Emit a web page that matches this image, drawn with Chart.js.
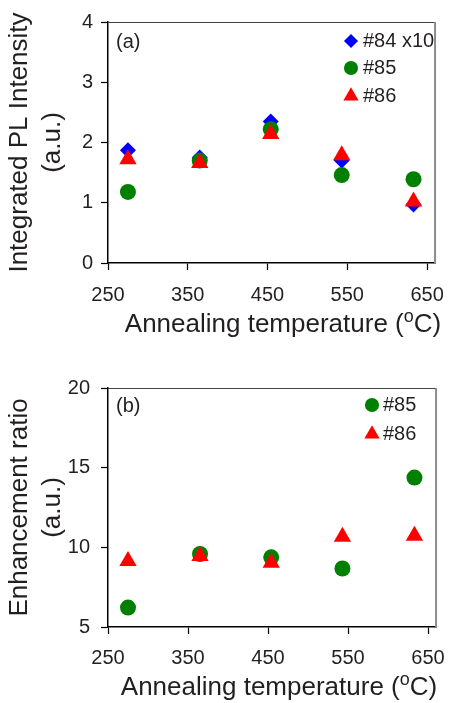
<!DOCTYPE html>
<html>
<head>
<meta charset="utf-8">
<title>Annealing temperature series</title>
<script src="https://cdn.jsdelivr.net/npm/chart.js@4.4.0/dist/chart.umd.min.js"></script>
<style>
  body { margin: 0; background: #fff; }
  canvas { position: absolute; left: 0; }
  #panelA { top: 0; }
  #panelB { top: 350px; }
</style>
</head>
<body>
<canvas id="panelA" width="457" height="350"></canvas>
<canvas id="panelB" width="457" height="353"></canvas>
<script>
// annealing temperatures (°C) and axis ticks
const temps = [275, 365, 454, 543, 633];
const tempTicks = [250, 350, 450, 550, 650];

// (a) integrated PL intensity
const pl84x10 = [1.87, 1.75, 2.35, 1.70, 0.97];
const pl85 = [1.18, 1.70, 2.22, 1.46, 1.39];
const pl86 = [1.72, 1.66, 2.14, 1.79, 1.02];
const intensityTicks = [0, 1, 2, 3, 4];

// (b) enhancement ratio
const ratio85 = [6.22, 9.58, 9.37, 8.67, 14.38];
const ratio86 = [9.15, 9.45, 9.04, 10.66, 10.73];
const ratioTicks = [5, 10, 15, 20];

const FONT = '"Liberation Sans", Arial, sans-serif';
const TEXT = '#231f20';
const BLUE = '#0000ff', GREEN = '#008000', RED = '#ff0000';

Chart.defaults.font.family = FONT;
Chart.defaults.color = TEXT;

function points(values) {
    return temps.map((t, i) => ({ x: t, y: values[i] }));
}

function series(label, values, style, color, radius, order) {
    return {
        label: label,
        data: points(values),
        pointStyle: style,
        pointRadius: radius,
        pointHoverRadius: radius,
        backgroundColor: color,
        borderColor: color,
        borderWidth: 0,
        showLine: false,
        order: order
    };
}

// frame, panel tag, in-plot legend and the x title with a superscript
const panelDecor = {
    id: 'panelDecor',
    beforeDatasetsDraw(chart) {
        const { ctx, chartArea: a } = chart;
        ctx.save();
        ctx.strokeStyle = '#444';
        ctx.lineWidth = 1;
        ctx.beginPath();
        ctx.moveTo(a.left, a.top + 0.5);
        ctx.lineTo(a.right, a.top + 0.5);
        ctx.stroke();
        ctx.strokeStyle = '#8c8c8c';
        ctx.lineWidth = 2;
        ctx.beginPath();
        ctx.moveTo(a.right, a.top);
        ctx.lineTo(a.right, a.bottom);
        ctx.stroke();
        ctx.restore();
    },
    afterDraw(chart, args, opts) {
        const ctx = chart.ctx;
        ctx.save();
        ctx.fillStyle = TEXT;
        ctx.textBaseline = 'middle';
        ctx.textAlign = 'left';

        ctx.font = `20px ${FONT}`;
        ctx.fillText(opts.tag, opts.tagX, opts.tagY);

        opts.legend.forEach(row => {
            const ds = chart.data.datasets[row.index];
            ctx.fillStyle = ds.backgroundColor;
            Chart.helpers.drawPoint(ctx, {
                pointStyle: ds.pointStyle,
                radius: ds.pointRadius * 0.88,
                rotation: 0,
                borderWidth: 0
            }, opts.markerX, row.y);
            ctx.fillStyle = TEXT;
            ctx.fillText(ds.label, opts.textX, row.y);
        });

        // "Annealing temperature (°C)" with a raised o
        const main = 'Annealing temperature (';
        const tail = 'C)';
        ctx.textBaseline = 'alphabetic';
        ctx.font = `26px ${FONT}`;
        const w1 = ctx.measureText(main).width;
        const w3 = ctx.measureText(tail).width;
        ctx.font = `18px ${FONT}`;
        const w2 = ctx.measureText('o').width;
        let x = opts.titleX - (w1 + w2 + w3) / 2;
        ctx.font = `26px ${FONT}`;
        ctx.fillText(main, x, opts.titleY);
        x += w1;
        ctx.font = `18px ${FONT}`;
        ctx.fillText('o', x, opts.titleY - 10);
        x += w2;
        ctx.font = `26px ${FONT}`;
        ctx.fillText(tail, x, opts.titleY);
        ctx.restore();
    }
};

function axes(cfg) {
    const grid = { drawOnChartArea: false, tickLength: 7, color: '#000', tickWidth: 1.2 };
    const border = { color: '#000', width: 1.5 };
    return {
        x: {
            type: 'linear',
            min: 250,
            max: 660,
            afterBuildTicks: s => { s.ticks = tempTicks.map(v => ({ value: v })); },
            afterFit: s => { s.height = cfg.xHeight; },
            ticks: { font: { size: 20 }, padding: cfg.xPad, color: TEXT },
            grid: grid,
            border: border
        },
        y: {
            type: 'linear',
            min: cfg.yTicks[0],
            max: cfg.yTicks[cfg.yTicks.length - 1],
            afterBuildTicks: s => { s.ticks = cfg.yTicks.map(v => ({ value: v })); },
            afterFit: s => { s.width = cfg.yWidth; },
            ticks: { font: { size: 20 }, padding: cfg.yPad, color: TEXT },
            grid: grid,
            border: border,
            title: {
                display: true,
                text: cfg.yTitle,
                color: TEXT,
                font: { size: 26, lineHeight: 33 / 26 },
                padding: { top: 3, bottom: 0 }
            }
        }
    };
}

function baseOptions(padding, scales, decor) {
    return {
        responsive: false,
        animation: false,
        events: [],
        layout: { padding: padding },
        scales: scales,
        plugins: {
            legend: { display: false },
            tooltip: { enabled: false },
            panelDecor: decor
        }
    };
}

new Chart(document.getElementById('panelA'), {
    type: 'scatter',
    data: {
        datasets: [
            series('#84 x10', pl84x10, 'rectRot', BLUE, 8, 2),
            series('#85', pl85, 'circle', GREEN, 8, 1),
            series('#86', pl86, 'triangle', RED, 10, 0)
        ]
    },
    options: baseOptions(
        { top: 22, right: 10, left: 0, bottom: 0 },
        axes({ xHeight: 87, xPad: 13, yWidth: 108, yPad: 8, yTicks: intensityTicks,
               yTitle: ['Integrated PL Intensity', '(a.u.)'] }),
        { tag: '(a)', tagX: 116, tagY: 42, markerX: 351, textX: 363,
          legend: [{ index: 0, y: 41 }, { index: 1, y: 68 }, { index: 2, y: 96 }],
          titleX: 283, titleY: 332 }
    ),
    plugins: [panelDecor]
});

new Chart(document.getElementById('panelB'), {
    type: 'scatter',
    data: {
        datasets: [
            series('#85', ratio85, 'circle', GREEN, 8, 1),
            series('#86', ratio86, 'triangle', RED, 10, 0)
        ]
    },
    options: baseOptions(
        { top: 38, right: 11, left: 0, bottom: 0 },
        axes({ xHeight: 76, xPad: 12, yWidth: 108, yPad: 11, yTicks: ratioTicks,
               yTitle: ['Enhancement ratio', '(a.u.)'] }),
        { tag: '(b)', tagX: 116, tagY: 56, markerX: 372, textX: 383,
          legend: [{ index: 0, y: 55 }, { index: 1, y: 84 }],
          titleX: 279, titleY: 345 }
    ),
    plugins: [panelDecor]
});
</script>
</body>
</html>
